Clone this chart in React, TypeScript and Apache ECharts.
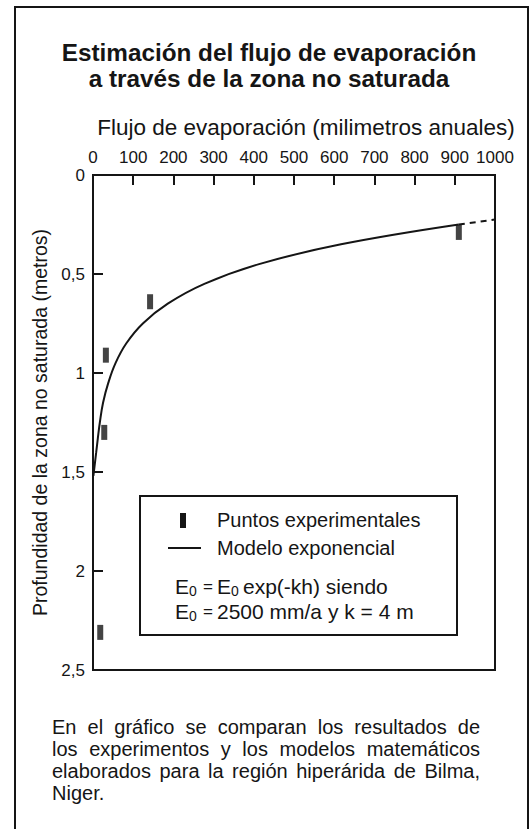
import React, { useEffect, useRef } from "react";
import * as echarts from "echarts";

const FONT = '"Liberation Sans", Arial, Helvetica, sans-serif';
const INK = "#151515";

// Title & texts
const titleLines = ["Estimación del flujo de evaporación", "a través de la zona no saturada"];
const xAxisName = "Flujo de evaporación (milimetros anuales)";
const yAxisName = "Profundidad de la zona no saturada (metros)";
const legendPoints = "Puntos experimentales";
const legendModel = "Modelo exponencial";
const footerLines = [
  "En el gráfico se comparan los resultados de",
  "los experimentos y los modelos matemáticos",
  "elaborados para la región hiperárida de Bilma,",
  "Niger.",
];

// Axis tick labels (depth uses decimal comma)
const yTickValues = [0, 0.5, 1, 1.5, 2, 2.5];
const yTickLabels = ["0", "0,5", "1", "1,5", "2", "2,5"];

// Experimental points (flux mm/a, depth m)
const pointFlux = [910, 142, 32, 28, 18];
const pointDepth = [0.29, 0.64, 0.91, 1.3, 2.31];

// Exponential model curve (flux, depth)
const modelFlux = [1, 8, 12, 17, 25, 38, 56, 83, 124, 186, 277, 413, 617, 910];
const modelDepth = [1.52, 1.4, 1.33, 1.25, 1.15, 1.05, 0.95, 0.85, 0.75, 0.65, 0.55, 0.45, 0.35, 0.25];

// Dashed extrapolation
const extraFlux = [910, 1000];
const extraDepth = [0.25, 0.225];

let ctx: CanvasRenderingContext2D | null = null;
function measure(text: string, size: number, bold = false): number {
  if (!ctx) ctx = document.createElement("canvas").getContext("2d");
  if (!ctx) return text.length * size * 0.5;
  ctx.font = `${bold ? "bold " : ""}${size}px ${FONT}`;
  return ctx.measureText(text).width;
}

function txt(text: string, x: number, y: number, size: number, opts: any = {}) {
  return {
    type: "text",
    x,
    y,
    z: opts.z ?? 1,
    silent: true,
    style: {
      text,
      fill: INK,
      font: `${opts.bold ? "bold " : ""}${size}px ${FONT}`,
      align: opts.align || "left",
      verticalAlign: "middle",
    },
  };
}

function justified(line: string, left: number, right: number, y: number, size: number) {
  const words = line.split(" ");
  const widths = words.map((w) => measure(w, size));
  const total = widths.reduce((a, b) => a + b, 0);
  const gap = words.length > 1 ? (right - left - total) / (words.length - 1) : 0;
  const out: any[] = [];
  let x = left;
  words.forEach((w, i) => {
    out.push(txt(w, x, y, size));
    x += widths[i] + gap;
  });
  return out;
}

export default function App() {
  const ref = useRef<HTMLDivElement>(null);
  useEffect(() => {
    if (!ref.current) return;
    const chart = echarts.init(ref.current, null, { renderer: "svg" });

    const lf = 20; // legend font
    const ff = 21; // formula font
    const graphics: any[] = [];
    // outer frame (open at the bottom)
    graphics.push({
      type: "rect",
      shape: { x: 15, y: 7, width: 513, height: 840 },
      style: { fill: "none", stroke: INK, lineWidth: 2 },
      silent: true,
    });
    // title
    graphics.push(txt(titleLines[0], 269, 52, 24.3, { bold: true, align: "center" }));
    graphics.push(txt(titleLines[1], 269, 78, 24.3, { bold: true, align: "center" }));

    // legend box
    graphics.push({
      type: "rect",
      shape: { x: 140, y: 496, width: 317, height: 139 },
      style: { fill: "#fff", stroke: INK, lineWidth: 2 },
      silent: true,
      z: 10,
    });
    const Z = { z: 11 };
    graphics.push({
      type: "rect",
      z: 11,
      silent: true,
      shape: { x: 180, y: 513, width: 6, height: 15 },
      style: { fill: INK },
    });
    graphics.push(txt(legendPoints, 217, 520, lf, Z));
    graphics.push({
      type: "line",
      z: 11,
      silent: true,
      shape: { x1: 168, y1: 548, x2: 201, y2: 548 },
      style: { stroke: INK, lineWidth: 2 },
    });
    graphics.push(txt(legendModel, 217, 548, lf, Z));
    // formula lines with subscripts
    const sub = 14;
    const f1y = 586, f2y = 611;
    const ew = measure("E", ff);
    graphics.push(txt("E", 175, f1y, ff, Z));
    graphics.push(txt("0", 175 + ew, f1y + 5, sub, Z));
    graphics.push(txt("=", 203, f1y, 17, Z));
    graphics.push(txt("E", 217, f1y, ff, Z));
    graphics.push(txt("0", 217 + ew, f1y + 5, sub, Z));
    graphics.push(txt("exp(-kh) siendo", 243, f1y, ff, Z));
    graphics.push(txt("E", 175, f2y, ff, Z));
    graphics.push(txt("0", 175 + ew, f2y + 5, sub, Z));
    graphics.push(txt("=", 203, f2y, 17, Z));
    graphics.push(txt("2500 mm/a y k = 4 m", 217, f2y, ff, Z));

    // footer (justified)
    const fsz = 20;
    const fy = [727, 749, 771, 793];
    footerLines.forEach((l, i) => {
      if (i < footerLines.length - 1) graphics.push(...justified(l, 52, 480, fy[i], fsz));
      else graphics.push(txt(l, 52, fy[i], fsz));
    });

    chart.setOption({
      animation: false,
      backgroundColor: "#ffffff",
      textStyle: { fontFamily: FONT, color: INK },
      grid: {
        left: 93,
        top: 175,
        right: 37,
        bottom: 159,
        show: true,
        borderColor: INK,
        borderWidth: 2,
        backgroundColor: "transparent",
      },
      xAxis: {
        type: "value",
        position: "top",
        min: 0,
        max: 1000,
        interval: 100,
        name: xAxisName,
        nameLocation: "middle",
        nameGap: 36,
        nameTextStyle: { fontSize: 22.5, color: INK, fontFamily: FONT, padding: [0, 0, 0, 24] },
        axisLine: { show: true, lineStyle: { color: INK, width: 2 } },
        axisTick: { show: true, inside: true, length: 10, lineStyle: { color: INK, width: 2 } },
        axisLabel: {
          fontSize: 17,
          color: INK,
          fontFamily: FONT,
          margin: 9,
          formatter: (v: number) => String(v),
        },
        splitLine: { show: false },
      },
      yAxis: {
        type: "value",
        inverse: true,
        min: 0,
        max: 2.5,
        interval: 0.5,
        name: yAxisName,
        nameLocation: "middle",
        nameRotate: 90,
        nameGap: 40,
        nameTextStyle: { fontSize: 19.5, color: INK, fontFamily: FONT },
        axisLine: { show: true, lineStyle: { color: INK, width: 2 } },
        axisTick: { show: true, inside: true, length: 10, lineStyle: { color: INK, width: 2 } },
        axisLabel: {
          fontSize: 17,
          color: INK,
          fontFamily: FONT,
          margin: 8,
          formatter: (v: number) => {
            const i = yTickValues.findIndex((t) => Math.abs(t - v) < 1e-9);
            return i >= 0 ? yTickLabels[i] : String(v);
          },
        },
        splitLine: { show: false },
      },
      series: [
        {
          type: "line",
          name: legendModel,
          data: modelFlux.map((x, i) => [x, modelDepth[i]]),
          smooth: 0.4,
          showSymbol: false,
          symbol: "none",
          lineStyle: { color: INK, width: 2 },
          z: 3,
        },
        {
          type: "line",
          name: "extrapolación",
          data: extraFlux.map((x, i) => [x, extraDepth[i]]),
          showSymbol: false,
          symbol: "none",
          lineStyle: { color: INK, width: 2, type: [6, 5] },
          z: 3,
        },
        {
          type: "scatter",
          name: legendPoints,
          data: pointFlux.map((x, i) => [x, pointDepth[i]]),
          symbol: "rect",
          symbolSize: [6, 15],
          itemStyle: { color: INK },
          z: 4,
        },
      ],
      graphic: graphics,
    });
    return () => chart.dispose();
  }, []);
  return (
    <div
      ref={ref}
      style={{ position: "fixed", left: 0, top: 0, width: 532, height: 829, background: "#fff" }}
    />
  );
}
